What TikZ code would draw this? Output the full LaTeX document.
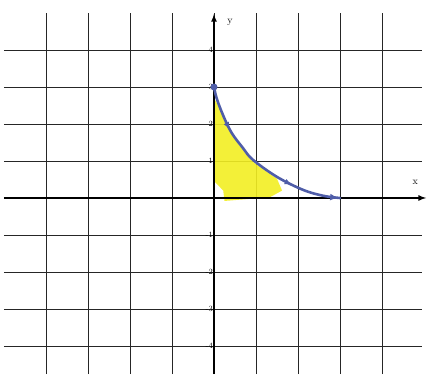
\documentclass[tikz,border=0pt]{standalone}
\usetikzlibrary{arrows.meta, decorations.markings}
\definecolor{blueink}{HTML}{4F5DA8}
\definecolor{highlight}{HTML}{F2EE22}
\begin{document}
\begin{tikzpicture}[
    x=42pt, y=37pt,
    gridline/.style={black!85, line width=0.8pt},
    axis/.style={-latex, line width=1.6pt},
    curve/.style={draw=blueink, line width=2.6pt, line cap=round,
      postaction={decorate},
      decoration={markings,
        mark=at position 0.25 with {\arrow[blueink]{Latex[length=7pt, width=6pt]}},
        mark=at position 0.72 with {\arrow[blueink]{Latex[length=7pt, width=6pt]}},
        mark=at position 0.99 with {\arrow[blueink]{Latex[length=8pt, width=7pt]}}}},
    tick/.style={font=\footnotesize, inner sep=1pt, left}
  ]
  \useasboundingbox (-5.095,-4.757) rectangle (5.143,5.351);

  % grid
  \foreach \i in {-4,...,4} {
    \draw[gridline] (\i,-4.76) -- (\i,5);
    \draw[gridline] (-5,\i) -- (4.95,\i);
  }

  % highlighted region
  \fill[highlight, fill opacity=0.9] (0,2.7) -- plot[smooth] coordinates {(0.1,2.5) (0.38,1.8) (0.69,1.3) (0.93,0.98) (1.5,0.52)}
    -- (1.62,0.2) -- (1.33,0.02) -- (0.25,-0.08) -- (0.22,0.2) -- (0.05,0.4) -- (0,0.45) -- cycle;

  % axes
  \draw[axis] (-5,0) -- (5.05,0);
  \draw[axis] (0,-4.76) -- (0,4.97);
  \node[font=\normalsize] (xlab) at (4.79,0.42) {x};
  \node[font=\normalsize] (ylab) at (0.38,4.75) {y};
  \foreach \k in {-4,...,-1,1,2,3,4}
    \node[tick] (t\k) at (0,\k) {\k};

  % curve
  \fill[blueink] (0,3) circle (3.5pt);
  \draw[curve] plot[smooth, tension=0.6] coordinates {(0,3) (0.1,2.57) (0.38,1.84) (0.69,1.35) (0.93,1.03) (1.5,0.57) (2.12,0.22) (2.6,0.06) (3,0)};
\end{tikzpicture}
\end{document}
